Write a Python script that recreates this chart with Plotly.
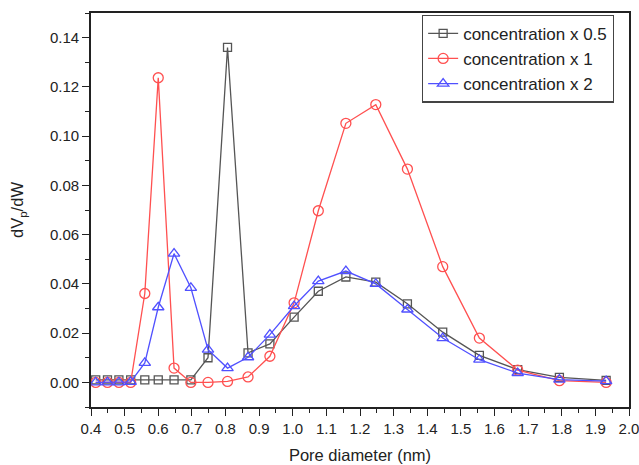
import plotly.graph_objects as go

pore_diameter = [0.414, 0.449, 0.483, 0.518, 0.560, 0.600, 0.647, 0.697, 0.748, 0.806, 0.867,
                 0.932, 1.004, 1.076, 1.158, 1.247, 1.341, 1.446, 1.555, 1.669, 1.793, 1.932]

conc_05 = [0.001, 0.001, 0.001, 0.001, 0.001, 0.001, 0.001, 0.001, 0.010, 0.136, 0.012,
           0.0156, 0.0265, 0.037, 0.0428, 0.0407, 0.0319, 0.0204, 0.011, 0.0052, 0.002, 0.0008]
conc_1 = [0.0, 0.0, 0.0, 0.0, 0.0361, 0.1237, 0.0058, 0.0, 0.0, 0.0004, 0.0022,
          0.0106, 0.0323, 0.0697, 0.1052, 0.1128, 0.0866, 0.047, 0.018, 0.005, 0.0007, 0.0]
conc_2 = [0.0, 0.0, 0.0, 0.0002, 0.0079, 0.0305, 0.0523, 0.0384, 0.0133, 0.0058, 0.0102,
          0.0194, 0.031, 0.0411, 0.0452, 0.040, 0.0296, 0.018, 0.0092, 0.0038, 0.0011, 0.0005]

series = [
    ("concentration x 0.5", conc_05, "#555555", "square-open", 8),
    ("concentration x 1", conc_1, "#ff5050", "circle-open", 10),
    ("concentration x 2", conc_2, "#5050ff", "triangle-up-open", 10),
]

fig = go.Figure()
for name, ys, color, sym, size in series:
    fig.add_trace(go.Scatter(
        x=pore_diameter, y=ys, name=name, mode="lines+markers",
        line=dict(color=color, width=1.3),
        marker=dict(symbol=sym, size=size, color=color, line=dict(width=1.3, color=color)),
    ))

font = "Liberation Sans, Arial, sans-serif"
fig.update_layout(
    width=639, height=465,
    margin=dict(l=91, r=10, t=13, b=58, autoexpand=False),
    paper_bgcolor="white", plot_bgcolor="white",
    font=dict(family=font, size=15, color="#222"),
    showlegend=True,
    legend=dict(x=0.972, y=0.996, xanchor="right", yanchor="top",
                bordercolor="#444", borderwidth=1.2, bgcolor="white",
                font=dict(size=17, family=font, color="#222"),
                tracegroupgap=0, itemwidth=30),
)
fig.update_xaxes(
    range=[0.4, 2.0], tickmode="linear", tick0=0.4, dtick=0.1, tickformat=".1f",
    ticks="outside", ticklen=7, tickwidth=1.3, tickcolor="#222",
    minor=dict(ticks="outside", ticklen=4, dtick=0.05, tickcolor="#222", tickwidth=1.1),
    showline=True, linecolor="#222", linewidth=1.6, mirror=True,
    showgrid=False, zeroline=False, automargin=False, ticklabeloverflow="allow",
    title=dict(text="Pore diameter (nm)", font=dict(size=16.5, family=font, color="#222"), standoff=14),
    tickfont=dict(size=15),
)
fig.update_yaxes(
    range=[-0.01, 0.15], tickmode="linear", tick0=0, dtick=0.02, tickformat=".2f",
    ticks="outside", ticklen=7, tickwidth=1.3, tickcolor="#222",
    minor=dict(ticks="outside", ticklen=4, dtick=0.01, tickcolor="#222", tickwidth=1.1),
    showline=True, linecolor="#222", linewidth=1.6, mirror=True,
    showgrid=False, zeroline=False, automargin=False,
    title=dict(text="dV<sub>p</sub>/dW", font=dict(size=16.5, family=font, color="#222"), standoff=22),
    tickfont=dict(size=15),
)
fig.write_html("out.html", config={"displayModeBar": False},
               post_script="document.body.style.margin='0';document.body.style.overflow='hidden';")
